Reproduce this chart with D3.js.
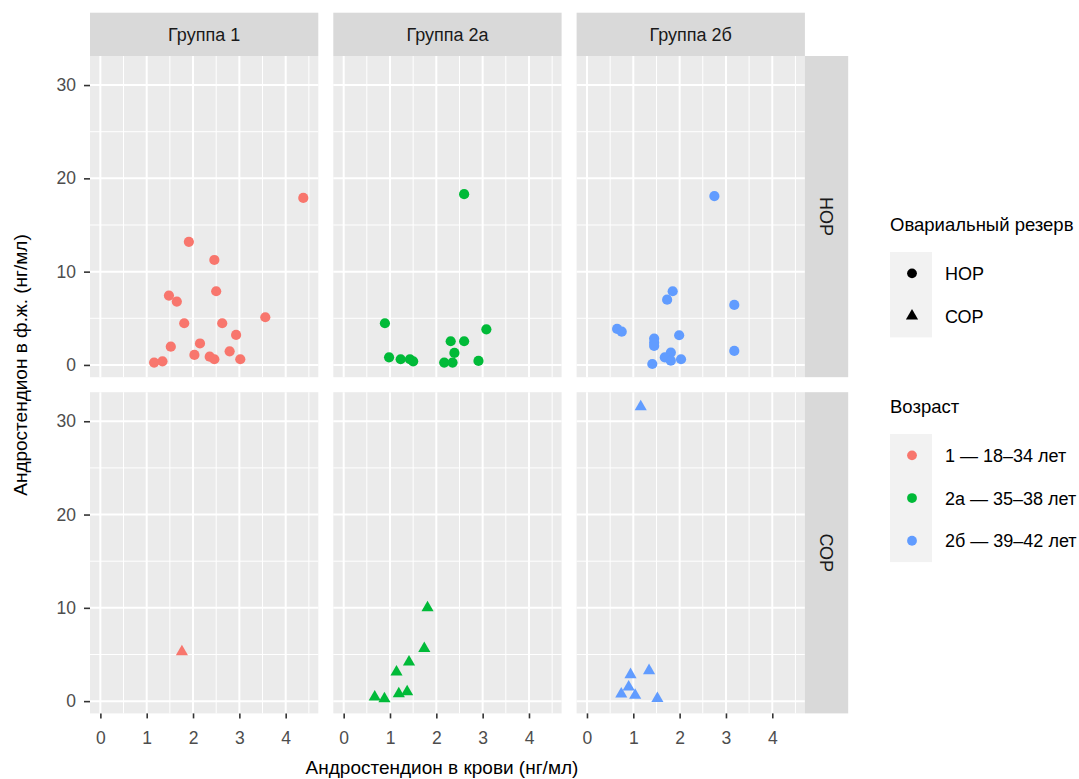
<!DOCTYPE html>
<html>
<head>
<meta charset="utf-8">
<script src="https://cdn.jsdelivr.net/npm/d3@7"></script>
<style>
  body { margin: 0; background: #fff; }
  svg { display: block; font-family: "Liberation Sans", Arial, Helvetica, sans-serif; }
</style>
</head>
<body>
<svg id="chart" width="1079" height="779"></svg>
<script>
// Facets
const groups = ["Группа 1", "Группа 2а", "Группа 2б"];
const reserves = ["НОР", "СОР"];
const ageLabels = ["1 — 18–34 лет", "2а — 35–38 лет", "2б — 39–42 лет"];
const ageColors = ["#F8766D", "#00BA38", "#619CFF"];

// Axis limits (data range before 5% expansion) and ticks
const xLimits = [0, 4.48];
const yLimits = [0.25, 31.55];
const xTicks = [0, 1, 2, 3, 4];
const xMinor = [0.5, 1.5, 2.5, 3.5, 4.5];
const yTicks = [0, 10, 20, 30];
const yMinor = [5, 15, 25];

// [андростендион в крови, андростендион в ф.ж.]
const group1NOR = [[4.38, 17.9], [1.91, 13.2], [2.46, 11.25], [2.50, 7.9], [1.48, 7.43],
  [1.65, 6.79], [3.56, 5.11], [1.81, 4.47], [2.63, 4.47], [2.93, 3.22], [2.15, 2.3],
  [1.52, 1.96], [2.79, 1.46], [2.03, 1.07], [2.36, 0.89], [2.46, 0.61], [3.02, 0.61],
  [1.34, 0.39], [1.16, 0.25]];
const group1SOR = [[1.76, 5.3]];
const group2aNOR = [[2.60, 18.3], [0.89, 4.47], [3.08, 3.82], [2.31, 2.54], [2.60, 2.54],
  [2.39, 1.29], [0.98, 0.82], [1.23, 0.61], [1.43, 0.61], [1.50, 0.39], [2.91, 0.43],
  [2.17, 0.25], [2.35, 0.25]];
const group2aSOR = [[1.81, 10.0], [1.74, 5.63], [1.41, 4.2], [1.14, 3.13], [1.37, 1.0],
  [1.19, 0.8], [0.67, 0.45], [0.88, 0.25]];
const group2bNOR = [[2.75, 18.1], [1.85, 7.9], [1.73, 7.0], [3.18, 6.43], [0.65, 3.86],
  [0.75, 3.57], [1.99, 3.18], [1.45, 2.82], [1.45, 2.39], [1.45, 2.04], [3.18, 1.50],
  [1.81, 1.32], [1.68, 0.82], [2.03, 0.61], [1.81, 0.46], [1.41, 0.1]];
const group2bSOR = [[1.16, 31.55], [1.34, 3.27], [0.94, 2.84], [0.90, 1.52], [0.74, 0.77],
  [1.04, 0.63], [1.52, 0.27]];

const panelData = [
  [group1NOR, group1SOR],
  [group2aNOR, group2aSOR],
  [group2bNOR, group2bSOR]
];

// layout
const panelLeft = 90, panelTop = 56, panelW = 228.3, panelH = 321.2, gap = 15, stripH = 43.3;
const svg = d3.select("#chart");

function expand(lim) {
  const r = lim[1] - lim[0];
  return [lim[0] - 0.05 * r, lim[1] + 0.05 * r];
}
const x = d3.scaleLinear().domain(expand(xLimits)).range([0, panelW]);
const y = d3.scaleLinear().domain(expand(yLimits)).range([panelH, 0]);

const triangle = d3.symbol().type(d3.symbolTriangle).size(64);

groups.forEach((gName, col) => {
  const px = panelLeft + col * (panelW + gap);

  // top strip
  svg.append("rect")
    .attr("x", px).attr("y", panelTop - stripH)
    .attr("width", panelW).attr("height", stripH)
    .attr("fill", "#D9D9D9");
  svg.append("text")
    .attr("x", px + panelW / 2).attr("y", panelTop - stripH / 2)
    .attr("dy", "0.36em")
    .attr("text-anchor", "middle")
    .attr("fill", "#1A1A1A")
    .style("font-size", "18px")
    .text(gName);

  reserves.forEach((rName, row) => {
    const py = panelTop + row * (panelH + gap);
    const g = svg.append("g").attr("transform", `translate(${px},${py})`);

    g.append("rect").attr("width", panelW).attr("height", panelH).attr("fill", "#EBEBEB");

    // grid
    g.selectAll(".xminor").data(xMinor).join("line")
      .attr("x1", d => x(d)).attr("x2", d => x(d))
      .attr("y1", 0).attr("y2", panelH)
      .attr("stroke", "#fff").attr("stroke-width", 1);
    g.selectAll(".yminor").data(yMinor).join("line")
      .attr("y1", d => y(d)).attr("y2", d => y(d))
      .attr("x1", 0).attr("x2", panelW)
      .attr("stroke", "#fff").attr("stroke-width", 1);
    g.selectAll(".xmajor").data(xTicks).join("line")
      .attr("x1", d => x(d)).attr("x2", d => x(d))
      .attr("y1", 0).attr("y2", panelH)
      .attr("stroke", "#fff").attr("stroke-width", 2);
    g.selectAll(".ymajor").data(yTicks).join("line")
      .attr("y1", d => y(d)).attr("y2", d => y(d))
      .attr("x1", 0).attr("x2", panelW)
      .attr("stroke", "#fff").attr("stroke-width", 2);

    const pts = panelData[col][row];
    if (row === 0) {
      g.selectAll(".pt").data(pts).join("circle")
        .attr("cx", d => x(d[0])).attr("cy", d => y(d[1]))
        .attr("r", 5.1)
        .attr("fill", ageColors[col]);
    } else {
      g.selectAll(".pt").data(pts).join("path")
        .attr("d", triangle)
        .attr("transform", d => `translate(${x(d[0])},${y(d[1])})`)
        .attr("fill", ageColors[col]);
    }

    // y axis on first column
    if (col === 0) {
      const ya = g.append("g")
        .call(d3.axisLeft(y).tickValues(yTicks).tickSize(6).tickPadding(8));
      ya.select(".domain").remove();
      ya.selectAll("line").attr("stroke", "#333").attr("stroke-width", 1.6);
      ya.selectAll("text").attr("fill", "#4D4D4D").style("font-size", "17.5px")
        .style("font-family", "Liberation Sans, Arial, sans-serif");
    }
    // x axis on bottom row
    if (row === 1) {
      const xa = g.append("g")
        .attr("transform", `translate(0,${panelH})`)
        .call(d3.axisBottom(x).tickValues(xTicks).tickFormat(d3.format("d"))
          .tickSize(5).tickPadding(13));
      xa.select(".domain").remove();
      xa.selectAll("line").attr("stroke", "#333").attr("stroke-width", 1.6);
      xa.selectAll("text").attr("fill", "#4D4D4D").style("font-size", "17.5px")
        .style("font-family", "Liberation Sans, Arial, sans-serif");
    }

    // right strip
    if (col === groups.length - 1) {
      svg.append("rect")
        .attr("x", px + panelW).attr("y", py)
        .attr("width", stripH).attr("height", panelH)
        .attr("fill", "#D9D9D9");
      const cx = px + panelW + stripH / 2, cy = py + panelH / 2;
      svg.append("text")
        .attr("transform", `translate(${cx},${cy}) rotate(90)`)
        .attr("dy", "0.36em")
        .attr("text-anchor", "middle")
        .attr("fill", "#1A1A1A")
        .style("font-size", "18px")
        .text(rName);
    }
  });
});

// axis titles
svg.append("text")
  .attr("x", 442).attr("y", 774)
  .attr("text-anchor", "middle")
  .attr("fill", "#000")
  .style("font-size", "19px")
  .text("Андростендион в крови (нг/мл)");
svg.append("text")
  .attr("transform", "translate(27,365) rotate(-90)")
  .attr("text-anchor", "middle")
  .attr("fill", "#000")
  .style("font-size", "19px")
  .text("Андростендион в ф.ж. (нг/мл)");

// legends
const legX = 890, keyW = 42, keyH = 42.7;

function legend(title, titleY, items, drawKey) {
  svg.append("text")
    .attr("x", legX).attr("y", titleY)
    .attr("fill", "#000")
    .style("font-size", "18.5px")
    .text(title);
  const kTop = titleY + 21;
  svg.append("rect")
    .attr("x", legX).attr("y", kTop)
    .attr("width", keyW).attr("height", keyH * items.length)
    .attr("fill", "#F2F2F2");
  items.forEach((label, i) => {
    const cy = kTop + keyH * (i + 0.5);
    drawKey(i, legX + keyW / 2 + 1, cy);
    svg.append("text")
      .attr("x", legX + 55).attr("y", cy)
      .attr("dy", "0.36em")
      .attr("fill", "#000")
      .style("font-size", "18px")
      .text(label);
  });
}

legend("Овариальный резерв", 231, reserves, (i, cx, cy) => {
  if (i === 0) {
    svg.append("circle").attr("cx", cx).attr("cy", cy).attr("r", 4.9).attr("fill", "#000");
  } else {
    svg.append("path").attr("d", triangle).attr("transform", `translate(${cx},${cy})`).attr("fill", "#000");
  }
});

legend("Возраст", 413, ageLabels, (i, cx, cy) => {
  svg.append("circle").attr("cx", cx).attr("cy", cy).attr("r", 4.9).attr("fill", ageColors[i]);
});
</script>
</body>
</html>
